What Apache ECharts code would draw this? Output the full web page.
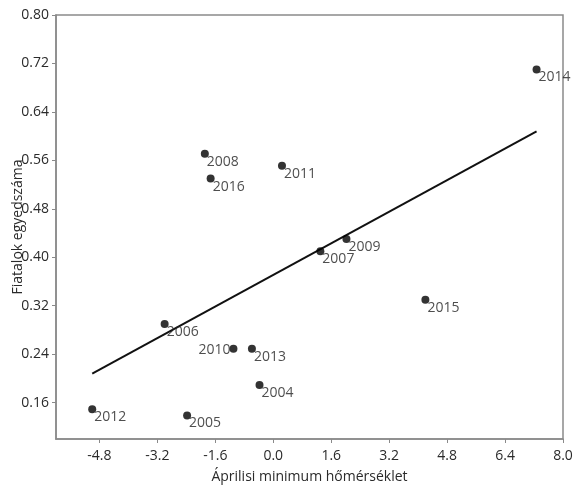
<!DOCTYPE html>
<html lang="hu">
<head>
    <meta charset="UTF-8">
    <title>Áprilisi minimum hőmérséklet</title>
    <script src="https://cdn.jsdelivr.net/npm/echarts@6/dist/echarts.min.js"></script>
    <style>
        html, body {
            margin: 0;
            padding: 0;
            background: #fff;
        }
        #chart {
            width: 577px;
            height: 487px;
        }
    </style>
</head>
<body>
<div id="chart"></div>
<script>
    // évek és mért értékek
    var years = ['2014', '2008', '2016', '2011', '2009', '2007', '2015', '2006', '2010', '2013', '2004', '2012', '2005'];
    var tempMin = [7.27, -1.89, -1.73, 0.24, 2.02, 1.30, 4.20, -3.00, -1.10, -0.59, -0.38, -5.00, -2.38];
    var youngCount = [0.710, 0.571, 0.530, 0.551, 0.430, 0.410, 0.330, 0.290, 0.249, 0.249, 0.189, 0.149, 0.139];

    // illesztett egyenes végpontjai
    var trendX = [-5.00, 7.27];
    var trendY = [0.208, 0.608];

    var xTicks = [-4.8, -3.2, -1.6, 0.0, 1.6, 3.2, 4.8, 6.4, 8.0];
    var yTicks = [0.16, 0.24, 0.32, 0.40, 0.48, 0.56, 0.64, 0.72, 0.80];

    var points = [];
    for (var i = 0; i < years.length; i++) {
        points.push({
            value: [tempMin[i], youngCount[i], years[i]],
            label: years[i] === '2010'
                ? {position: 'left', offset: [6, 1]}
                : {position: 'right', offset: [-7, 8]}
        });
    }
    var trend = [];
    for (var j = 0; j < trendX.length; j++) {
        trend.push([trendX[j], trendY[j]]);
    }

    var font = '"Open Sans", "Noto Sans", sans-serif';
    var option = {
        animation: false,
        backgroundColor: '#fff',
        grid: {
            left: 56,
            right: 14,
            top: 15,
            bottom: 48,
            containLabel: false,
            outerBoundsMode: 'none',
            show: true,
            borderColor: '#8a8a8a',
            borderWidth: 1.5
        },
        xAxis: {
            type: 'value',
            min: -6.0,
            max: 8.0,
            name: 'Áprilisi minimum hőmérséklet',
            nameLocation: 'middle',
            nameGap: 31,
            nameMoveOverlap: false,
            nameTextStyle: {fontFamily: font, fontSize: 14, color: '#2a2a2a'},
            splitLine: {show: false},
            axisLine: {onZero: false, lineStyle: {color: '#8a8a8a', width: 1.5}},
            axisTick: {show: true, length: 4, customValues: xTicks, lineStyle: {color: '#8a8a8a'}},
            axisLabel: {
                customValues: xTicks,
                fontFamily: font,
                fontSize: 14,
                color: '#2a2a2a',
                margin: 10,
                formatter: function (v) {
                    return v.toFixed(1);
                }
            }
        },
        yAxis: {
            type: 'value',
            min: 0.10,
            max: 0.80,
            name: 'Fiatalok egyedszáma',
            nameLocation: 'middle',
            nameGap: 31,
            nameMoveOverlap: false,
            nameTextStyle: {fontFamily: font, fontSize: 14, color: '#2a2a2a'},
            splitLine: {show: false},
            axisLine: {show: true, onZero: false, lineStyle: {color: '#8a8a8a', width: 1.5}},
            axisTick: {show: true, length: 4, customValues: yTicks, lineStyle: {color: '#8a8a8a'}},
            axisLabel: {
                customValues: yTicks,
                fontFamily: font,
                fontSize: 14,
                color: '#2a2a2a',
                margin: 7,
                formatter: function (v) {
                    return v.toFixed(2);
                }
            }
        },
        series: [
            {
                type: 'line',
                data: trend,
                symbol: 'none',
                silent: true,
                lineStyle: {color: '#111', width: 2},
                z: 1
            },
            {
                type: 'scatter',
                data: points,
                symbolSize: 8,
                itemStyle: {color: '#000'},
                label: {
                    show: true,
                    fontFamily: font,
                    fontSize: 14,
                    color: '#222',
                    formatter: function (p) {
                        return p.value[2];
                    }
                },
                z: 2
            }
        ]
    };

    var myChart = echarts.init(document.getElementById('chart'));
    myChart.setOption(option);
</script>
</body>
</html>
